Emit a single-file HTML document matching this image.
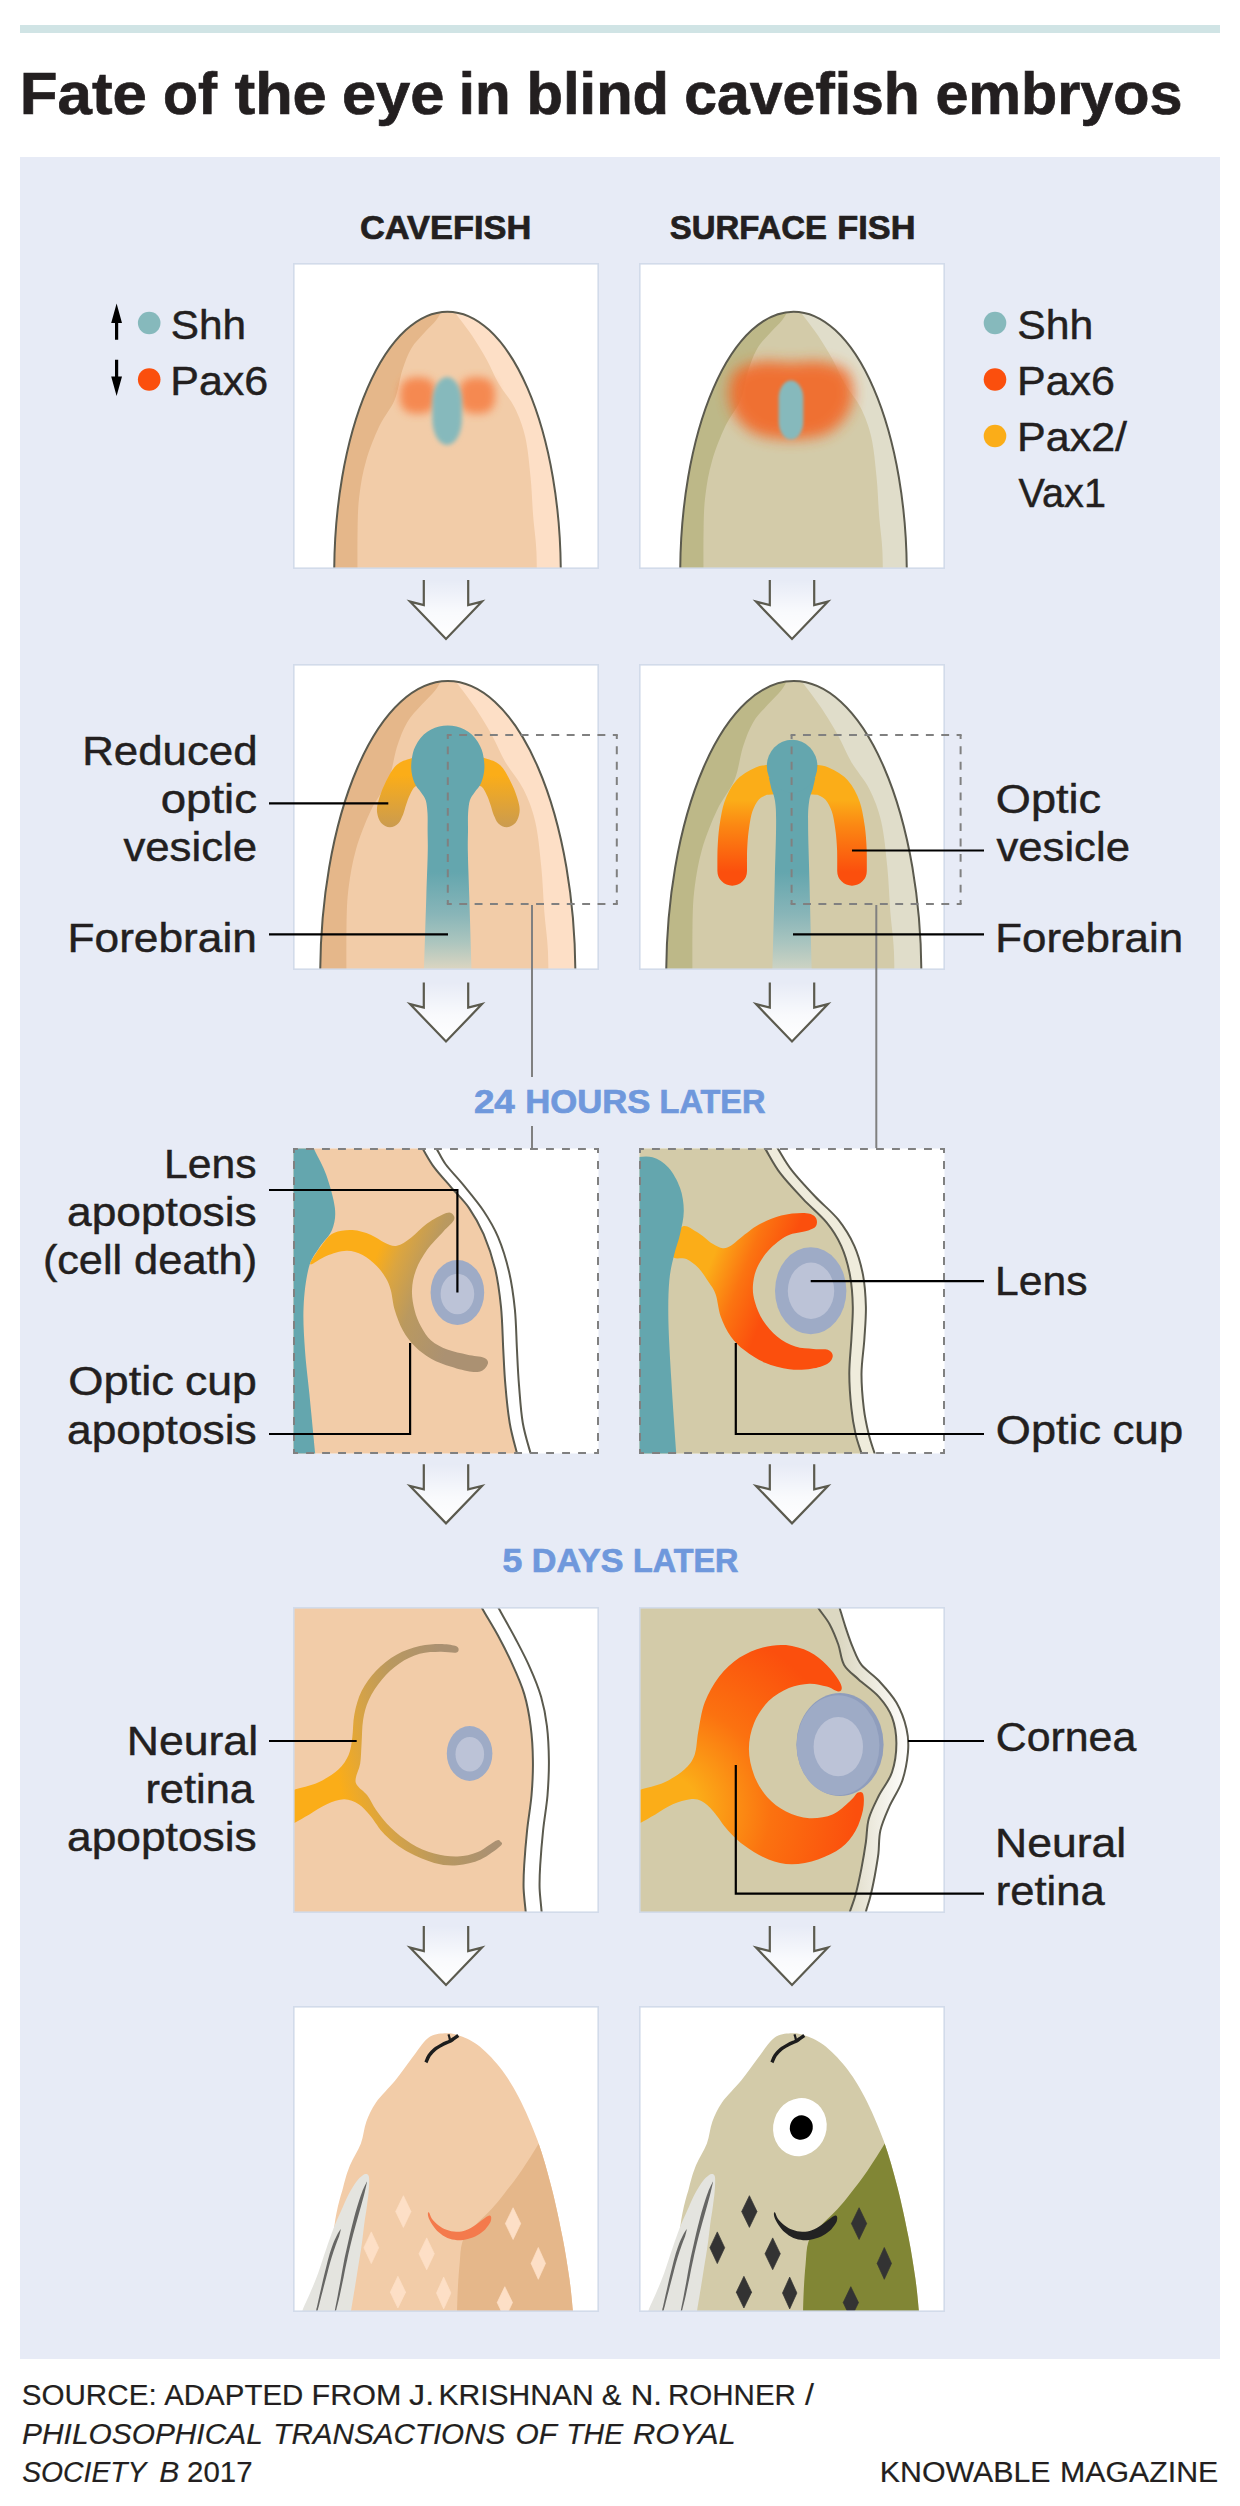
<!DOCTYPE html>
<html><head><meta charset="utf-8"><title>Fate of the eye in blind cavefish embryos</title>
<style>
html,body{margin:0;padding:0;background:#fff;}
body{width:1240px;height:2506px;overflow:hidden;font-family:"Liberation Sans",sans-serif;}
svg{display:block;}
text{font-family:"Liberation Sans",sans-serif;}
</style></head><body>
<svg width="1240" height="2506" viewBox="0 0 1240 2506">
<defs>
<linearGradient id="arrg" x1="0" y1="0" x2="0" y2="1"><stop offset="0" stop-color="#fff" stop-opacity="0"/><stop offset="0.55" stop-color="#fff" stop-opacity="0.75"/><stop offset="1" stop-color="#fff" stop-opacity="1"/></linearGradient>
<filter id="b3" x="-50%" y="-50%" width="200%" height="200%"><feGaussianBlur stdDeviation="3.2"/></filter>
<filter id="b2" x="-50%" y="-50%" width="200%" height="200%"><feGaussianBlur stdDeviation="1.6"/></filter>
<filter id="b4" x="-50%" y="-50%" width="200%" height="200%"><feGaussianBlur stdDeviation="4"/></filter>
<filter id="b7" x="-50%" y="-50%" width="200%" height="200%"><feGaussianBlur stdDeviation="7"/></filter>
<filter id="b2b" x="-50%" y="-50%" width="200%" height="200%"><feGaussianBlur stdDeviation="2.1"/></filter>
<filter id="b6" x="-50%" y="-50%" width="200%" height="200%"><feGaussianBlur stdDeviation="6"/></filter>
<clipPath id="cp00"><rect x="293.5" y="263.5" width="305" height="305"/></clipPath>
<clipPath id="cp01"><rect x="639.5" y="263.5" width="305" height="305"/></clipPath>
<clipPath id="cp10"><rect x="293.5" y="664.5" width="305" height="305"/></clipPath>
<clipPath id="cp11"><rect x="639.5" y="664.5" width="305" height="305"/></clipPath>
<clipPath id="cp20"><rect x="293.5" y="1148.5" width="305" height="305"/></clipPath>
<clipPath id="cp21"><rect x="639.5" y="1148.5" width="305" height="305"/></clipPath>
<clipPath id="cp30"><rect x="293.5" y="1607.5" width="305" height="305"/></clipPath>
<clipPath id="cp31"><rect x="639.5" y="1607.5" width="305" height="305"/></clipPath>
<clipPath id="cp40"><rect x="293.5" y="2006.5" width="305" height="305"/></clipPath>
<clipPath id="cp41"><rect x="639.5" y="2006.5" width="305" height="305"/></clipPath>
</defs>
<rect x="20" y="25" width="1200" height="8" fill="#d0e4e5"/>
<rect x="20" y="157" width="1200" height="2202" fill="#e7ebf6"/>
<rect x="293.5" y="263.5" width="305" height="305" fill="#fff"/>
<g clip-path="url(#cp00)">
<clipPath id="ec00"><ellipse cx="447.5" cy="573.7" rx="113.3" ry="262"/></clipPath>
<ellipse cx="447.5" cy="573.7" rx="113.3" ry="262" fill="#f2cca8"/>
<g clip-path="url(#ec00)">
<path d="M441.6,311.2C440.7,312.7 439,316.6 436.1,320.2C433.1,323.9 428.2,328.3 424.1,333C420,337.7 414.9,342.2 411.3,348.4C407.7,354.6 405,361.7 402.3,370.2C399.5,378.8 398.6,390.2 394.8,399.5C391,408.8 384.2,415.9 379.4,426.1C374.6,436.3 369.4,449.2 366.1,460.7C362.7,472.2 360.8,483.8 359.4,495.3C358,506.8 357.9,513 357.6,529.9C357.2,546.8 357.6,585.3 357.6,596.4L329.2,596.4 L329.2,306.7 Z" fill="#e5b78a" />
<path d="M453.9,311.2C454.9,312.5 457,315.1 460,319.2C463,323.2 467.5,328.9 472,335.6C476.4,342.4 482.2,351.6 486.6,359.6C491.1,367.6 493.9,375.6 498.6,383.5C503.2,391.5 510.1,398.6 514.6,407.5C519,416.4 522.5,425.2 525.2,436.8C527.9,448.3 529.2,463.4 530.5,476.7C531.9,490 532.2,504.2 533.2,516.6C534.2,529 535.8,537.9 536.4,551.2C537,564.5 536.8,588.9 536.9,596.4L565.8,596.4 L565.8,306.7 Z" fill="#fddfc6" />
</g>
<rect x="400" y="377.5" width="36" height="36" rx="14" fill="#f6864e" opacity="0.95" filter="url(#b4)"/>
<rect x="459" y="377.5" width="36" height="36" rx="14" fill="#f6864e" opacity="0.95" filter="url(#b4)"/>
<rect x="432.3" y="377" width="29.6" height="68" rx="14.8" ry="26" fill="#86b9bc" filter="url(#b2b)"/>
<ellipse cx="447.5" cy="573.7" rx="113.3" ry="262" fill="none" stroke="#5b5a4e" stroke-width="2"/>
</g>
<rect x="293.8" y="263.8" width="304.4" height="304.4" fill="none" stroke="#d2dbea" stroke-width="1.6"/>
<rect x="639.5" y="263.5" width="305" height="305" fill="#fff"/>
<g clip-path="url(#cp01)">
<clipPath id="ec01"><ellipse cx="793.5" cy="573.7" rx="113.3" ry="262"/></clipPath>
<ellipse cx="793.5" cy="573.7" rx="113.3" ry="262" fill="#d3cba9"/>
<g clip-path="url(#ec01)">
<path d="M787.6,311.2C786.7,312.7 785,316.6 782.1,320.2C779.1,323.9 774.2,328.3 770.1,333C766,337.7 760.9,342.2 757.3,348.4C753.7,354.6 751,361.7 748.3,370.2C745.5,378.8 744.6,390.2 740.8,399.5C737,408.8 730.2,415.9 725.4,426.1C720.6,436.3 715.4,449.2 712.1,460.7C708.7,472.2 706.8,483.8 705.4,495.3C704,506.8 703.9,513 703.6,529.9C703.2,546.8 703.6,585.3 703.6,596.4L675.2,596.4 L675.2,306.7 Z" fill="#bdb888" />
<path d="M799.9,311.2C800.9,312.5 803,315.1 806,319.2C809,323.2 813.5,328.9 818,335.6C822.4,342.4 828.2,351.6 832.6,359.6C837.1,367.6 839.9,375.6 844.6,383.5C849.2,391.5 856.1,398.6 860.6,407.5C865,416.4 868.5,425.2 871.2,436.8C873.9,448.3 875.2,463.4 876.5,476.7C877.9,490 878.2,504.2 879.2,516.6C880.2,529 881.8,537.9 882.4,551.2C883,564.5 882.8,588.9 882.9,596.4L911.8,596.4 L911.8,306.7 Z" fill="#e0ddca" />
</g>
<path d="M735,371 C757,357 775,362 791,363 C807,362 825,357 847,371 C861,394 850,423 825,434.5 C805,441 777,441 757,434.5 C732,423 721,394 735,371Z" fill="#f26b2b" opacity="0.93" filter="url(#b7)"/>
<rect x="778.7" y="380.5" width="24.6" height="59" rx="12.3" ry="18" fill="#86b9bc" filter="url(#b2)"/>
<ellipse cx="793.5" cy="573.7" rx="113.3" ry="262" fill="none" stroke="#5b5a4e" stroke-width="2"/>
</g>
<rect x="639.8" y="263.8" width="304.4" height="304.4" fill="none" stroke="#d2dbea" stroke-width="1.6"/>
<defs>
<linearGradient id="tealg" gradientUnits="userSpaceOnUse" x1="0" y1="872" x2="0" y2="969"><stop offset="0" stop-color="#64a6ae"/><stop offset="0.43" stop-color="#88b5b8"/><stop offset="0.72" stop-color="#abc5be"/><stop offset="1" stop-color="#dbd5c1"/></linearGradient>
<linearGradient id="tealg2" gradientUnits="userSpaceOnUse" x1="0" y1="872" x2="0" y2="969"><stop offset="0" stop-color="#64a6ae"/><stop offset="0.43" stop-color="#88b5b8"/><stop offset="0.72" stop-color="#a8c4bf"/><stop offset="1" stop-color="#cdd3c3"/></linearGradient>
<linearGradient id="yb1" gradientUnits="userSpaceOnUse" x1="0" y1="775" x2="0" y2="830"><stop offset="0" stop-color="#fbad18"/><stop offset="1" stop-color="#c89a52"/></linearGradient>
<linearGradient id="yo1" gradientUnits="userSpaceOnUse" x1="0" y1="800" x2="0" y2="872"><stop offset="0" stop-color="#fbad18"/><stop offset="0.35" stop-color="#fb8813"/><stop offset="1" stop-color="#fb4f0d"/></linearGradient>
</defs>
<rect x="293.5" y="664.5" width="305" height="305" fill="#fff"/>
<g clip-path="url(#cp10)">
<clipPath id="ec10"><ellipse cx="447.8" cy="976.1" rx="127.6" ry="295"/></clipPath>
<ellipse cx="447.8" cy="976.1" rx="127.6" ry="295" fill="#f2cca8"/>
<g clip-path="url(#ec10)">
<path d="M441.2,680.5C440.2,682.2 438.2,686.6 434.9,690.7C431.6,694.8 426.1,699.8 421.4,705.1C416.8,710.4 411.1,715.5 407.1,722.4C403,729.4 400,737.4 396.9,747C393.8,756.6 392.8,769.5 388.5,780C384.2,790.5 376.5,798.5 371.1,809.9C365.7,821.4 359.9,835.9 356.1,848.9C352.4,861.9 350.2,874.9 348.6,887.8C347,900.8 346.9,907.8 346.5,926.8C346.2,945.8 346.5,989.2 346.5,1001.7L315.2,1001.7 L315.2,676.1 Z" fill="#e5b78a" />
<path d="M455,680.5C456.1,682 458.5,684.9 461.9,689.5C465.3,694.1 470.4,700.5 475.4,708.1C480.4,715.7 486.9,726 491.8,735C496.8,744 500.1,753 505.3,762C510.6,771 518.3,779 523.3,789C528.3,799 532.3,808.9 535.3,821.9C538.3,834.9 539.8,851.9 541.3,866.9C542.8,881.9 543.2,897.8 544.3,911.8C545.4,925.8 547.2,935.8 547.9,950.8C548.6,965.7 548.4,993.2 548.5,1001.7L580.4,1001.7 L580.4,676.1 Z" fill="#fddfc6" />
</g>
<path d="M421,757.3C419.3,753.2 416.4,756.7 412.3,758.1C408.1,759.4 400.9,761 396.3,765.3C391.7,769.7 387.7,778.1 384.7,784.2C381.7,790.2 379.5,796.9 378.3,801.6C377,806.3 376.7,809 377.1,812.5C377.6,816 378.9,820.2 381,822.7C383.2,825.1 386.9,827.2 389.8,827.3C392.6,827.4 396,825.5 398.2,823.4C400.4,821.3 401.6,817.8 403,814.7C404.3,811.5 405,807.9 406.2,804.5C407.3,801.1 408.6,797.3 410.1,794.4C411.5,791.4 412.8,788.7 414.9,786.8C416.9,784.9 421.4,787.7 422.4,782.7C423.4,777.8 422.7,761.5 421,757.3Z" fill="url(#yb1)" />
<path d="M475.6,757.3C477.3,753.2 480.2,756.7 484.3,758.1C488.5,759.4 495.7,761 500.3,765.3C504.9,769.7 508.9,778.1 511.9,784.2C514.9,790.2 517.1,796.9 518.3,801.6C519.6,806.3 519.9,809 519.5,812.5C519,816 517.7,820.2 515.6,822.7C513.4,825.1 509.7,827.2 506.8,827.3C504,827.4 500.6,825.5 498.4,823.4C496.2,821.3 495,817.8 493.6,814.7C492.3,811.5 491.6,807.9 490.4,804.5C489.3,801.1 488,797.3 486.5,794.4C485.1,791.4 483.8,788.7 481.7,786.8C479.7,784.9 475.2,787.7 474.2,782.7C473.2,777.8 473.9,761.5 475.6,757.3Z" fill="url(#yb1)" />
<path d="M424,970.8C424.3,958.5 425.7,916.4 426.3,896.8C426.9,877.2 427.5,864.3 427.7,853.3C428,842.2 427.6,837.3 427.6,830.6C427.6,824 427.8,818.3 427.5,813.2C427.1,808.1 426.8,803.7 425.7,800.2C424.6,796.7 422.8,795.1 420.9,792.2C419,789.3 416,786.7 414.4,782.7C412.8,778.7 411.4,773.2 411.2,768.2C411,763.3 411.9,757.3 412.9,753C414,748.6 415.9,745.2 417.7,742.1C419.5,739 421.6,736.6 423.8,734.5C426.1,732.5 428.5,730.9 431.1,729.6C433.6,728.3 436.3,727.3 439.1,726.6C441.9,725.9 444.9,725.4 447.8,725.4C450.7,725.4 453.7,725.9 456.5,726.6C459.3,727.3 462,728.3 464.5,729.6C467.1,730.9 469.5,732.5 471.8,734.5C474,736.6 476.1,739 477.9,742.1C479.7,745.2 481.6,748.6 482.7,753C483.7,757.3 484.6,763.3 484.4,768.2C484.2,773.2 482.8,778.7 481.2,782.7C479.6,786.7 476.6,789.3 474.7,792.2C472.8,795.1 471,796.7 469.9,800.2C468.8,803.7 468.5,808.1 468.1,813.2C467.8,818.3 468,824 468,830.6C468,837.3 467.6,842.2 467.9,853.3C468.1,864.3 468.7,877.2 469.3,896.8C469.9,916.4 471.3,958.5 471.6,970.8Z" fill="url(#tealg)" />
<ellipse cx="447.8" cy="976.1" rx="127.6" ry="295" fill="none" stroke="#5b5a4e" stroke-width="2"/>
</g>
<rect x="293.8" y="664.8" width="304.4" height="304.4" fill="none" stroke="#d2dbea" stroke-width="1.6"/>
<rect x="639.5" y="664.5" width="305" height="305" fill="#fff"/>
<g clip-path="url(#cp11)">
<clipPath id="ec11"><ellipse cx="793.8" cy="976.1" rx="127.6" ry="295"/></clipPath>
<ellipse cx="793.8" cy="976.1" rx="127.6" ry="295" fill="#d3cba9"/>
<g clip-path="url(#ec11)">
<path d="M787.2,680.5C786.2,682.2 784.2,686.6 780.9,690.7C777.6,694.8 772.1,699.8 767.4,705.1C762.8,710.4 757.1,715.5 753.1,722.4C749,729.4 746,737.4 742.9,747C739.8,756.6 738.8,769.5 734.5,780C730.2,790.5 722.5,798.5 717.1,809.9C711.7,821.4 705.9,835.9 702.1,848.9C698.4,861.9 696.2,874.9 694.6,887.8C693,900.8 692.9,907.8 692.5,926.8C692.2,945.8 692.5,989.2 692.5,1001.7L661.2,1001.7 L661.2,676.1 Z" fill="#bdb888" />
<path d="M801,680.5C802.1,682 804.5,684.9 807.9,689.5C811.3,694.1 816.4,700.5 821.4,708.1C826.4,715.7 832.9,726 837.8,735C842.8,744 846.1,753 851.3,762C856.6,771 864.3,779 869.3,789C874.3,799 878.3,808.9 881.3,821.9C884.3,834.9 885.8,851.9 887.3,866.9C888.8,881.9 889.2,897.8 890.3,911.8C891.4,925.8 893.2,935.8 893.9,950.8C894.6,965.7 894.4,993.2 894.5,1001.7L926.4,1001.7 L926.4,676.1 Z" fill="#e0ddca" />
</g>
<path d="M773.2,779.5C771.3,779.7 765.5,779.4 761.3,781.1C757.1,782.9 751.6,785.4 747.8,789.7C744,794 740.6,800.4 738.3,807C736,813.7 734.9,822.4 733.9,829.6C732.9,836.8 732.6,843.4 732.3,850.2C732.1,857.1 732.2,867.5 732.2,870.9" fill="none" stroke="url(#yo1)" stroke-width="29.6" stroke-linecap="round"/>
<path d="M811,779.5C812.9,779.7 818.7,779.4 822.9,781.1C827.1,782.9 832.6,785.4 836.4,789.7C840.2,794 843.6,800.4 845.9,807C848.2,813.7 849.3,822.4 850.3,829.6C851.3,836.8 851.6,843.4 851.9,850.2C852.1,857.1 852,867.5 852,870.9" fill="none" stroke="url(#yo1)" stroke-width="29.6" stroke-linecap="round"/>
<path d="M772.4,970.8C772.8,956.1 774.1,906.7 774.7,882.3C775.3,857.8 776.1,837.8 776.1,824.2C776.2,810.7 775.8,807 775,801C774.2,794.9 772.2,791.8 771.2,787.9C770.2,784 769.3,779.5 768.9,777.8L815.3,777.8C814.9,779.5 814,784 813,787.9C812,791.8 810,794.9 809.2,801C808.4,807 808,810.7 808.1,824.2C808.1,837.8 808.9,857.8 809.5,882.3C810.1,906.7 811.4,956.1 811.8,970.8Z" fill="url(#tealg2)" />
<ellipse cx="792.1" cy="766.1" rx="25.3" ry="26.4" fill="#64a6ae"/>
<ellipse cx="793.8" cy="976.1" rx="127.6" ry="295" fill="none" stroke="#5b5a4e" stroke-width="2"/>
</g>
<rect x="639.8" y="664.8" width="304.4" height="304.4" fill="none" stroke="#d2dbea" stroke-width="1.6"/>
<defs>
<linearGradient id="yb2" gradientUnits="userSpaceOnUse" x1="376.7" y1="1253.9" x2="470.4" y2="1291.4"><stop offset="0" stop-color="#fbad18"/><stop offset="0.21" stop-color="#dba540"/><stop offset="0.51" stop-color="#ba995f"/><stop offset="1" stop-color="#ab9172"/></linearGradient>
<linearGradient id="yo2" gradientUnits="userSpaceOnUse" x1="710.6" y1="1262.7" x2="774.2" y2="1288.1"><stop offset="0" stop-color="#fbad18"/><stop offset="0.5" stop-color="#fb7411"/><stop offset="1" stop-color="#fb4f0d"/></linearGradient>
</defs>
<rect x="293.5" y="1148.5" width="305" height="305" fill="#fff"/>
<g clip-path="url(#cp20)">
<path d="M418.2,1141.3C419,1142.5 419.9,1144.2 422.6,1148.6C425.3,1152.9 429.4,1160.9 434.2,1167.4C439.1,1174 445.8,1181 451.6,1187.8C457.4,1194.5 463.7,1200.3 469.1,1208.1C474.4,1215.8 479.2,1224.1 483.6,1234.2C487.9,1244.4 492.3,1257 495.2,1269.1C498.1,1281.2 499.6,1293.3 501,1306.8C502.4,1320.4 502.6,1337.3 503.3,1350.4C504,1363.4 504.3,1373.1 505.4,1385.2C506.4,1397.3 507.8,1411.6 509.7,1423C511.6,1434.3 515.3,1446.7 517,1453.4C518.7,1460.2 519.4,1461.9 519.9,1463.6L250,1470L250,1130Z" fill="#f2cca8" />
<path d="M418.2,1141.3C419,1142.5 419.9,1144.2 422.6,1148.6C425.3,1152.9 429.4,1160.9 434.2,1167.4C439.1,1174 445.8,1181 451.6,1187.8C457.4,1194.5 463.7,1200.3 469.1,1208.1C474.4,1215.8 479.2,1224.1 483.6,1234.2C487.9,1244.4 492.3,1257 495.2,1269.1C498.1,1281.2 499.6,1293.3 501,1306.8C502.4,1320.4 502.6,1337.3 503.3,1350.4C504,1363.4 504.3,1373.1 505.4,1385.2C506.4,1397.3 507.8,1411.6 509.7,1423C511.6,1434.3 515.3,1446.7 517,1453.4C518.7,1460.2 519.4,1461.9 519.9,1463.6" fill="none" stroke="#5b5a4e" stroke-width="2"/>
<path d="M431.9,1141.3C432.7,1142.5 434.2,1144.7 436.5,1148.6C438.9,1152.4 441.4,1158.5 445.8,1164.5C450.3,1170.6 457,1177.1 463.3,1184.9C469.5,1192.6 477.8,1202.3 483.6,1211C489.4,1219.7 493.8,1227 498.1,1237.1C502.4,1247.3 506.3,1259.9 509.1,1272C511.9,1284.1 513.6,1296.6 514.9,1309.7C516.2,1322.8 516.3,1337.8 517,1350.4C517.6,1362.9 518,1373.1 519,1385.2C520,1397.3 520.8,1411.6 522.8,1423C524.7,1434.3 528.8,1446.7 530.6,1453.4C532.4,1460.2 533,1461.9 533.5,1463.6" fill="none" stroke="#5b5a4e" stroke-width="2"/>
<path d="M309.9,1138.4C310.8,1140.6 312.5,1145.4 315.2,1151.5C317.9,1157.5 322.9,1165.3 326.2,1174.7C329.5,1184.1 333.9,1198.9 334.9,1208.1C335.9,1217.3 334.6,1223.3 332,1229.9C329.4,1236.4 323.4,1241 319.5,1247.3C315.7,1253.6 311.4,1257.7 308.8,1267.6C306.1,1277.5 304.2,1293 303.6,1306.8C302.9,1320.6 304,1335.8 305,1350.4C306,1364.9 307.7,1376.7 309.4,1393.9C311.1,1411.1 314.1,1441.8 315.2,1453.4C316.3,1465.1 315.9,1461.9 316,1463.6L250,1470L250,1130Z" fill="#64a6ae" />
<path d="M390.8,1290.2C392.3,1295.5 392.8,1303.6 394.8,1310.3C396.9,1317 399.5,1324.4 402.9,1330.5C406.3,1336.5 410.3,1341.9 415,1346.6C419.7,1351.3 425.1,1355.3 431.1,1358.7C437.2,1362.1 444.6,1364.6 451.3,1366.8C458,1369 466.2,1371.2 471.5,1371.8C476.7,1372.4 479.8,1371.8 482.5,1370.4C485.3,1369 487.7,1365.3 488,1363.1C488.2,1361 487.4,1359.1 484,1357.7C480.5,1356.3 473.5,1356 467.4,1354.7C461.3,1353.3 453.3,1352 447.3,1349.6C441.2,1347.3 435.5,1344.4 431.1,1340.6C426.8,1336.7 423.8,1331.5 421,1326.5C418.3,1321.4 416.1,1316.4 414.6,1310.3C413.1,1304.3 411.7,1296.9 412,1290.2C412.2,1283.4 413.5,1276.7 416,1270C418.5,1263.3 422.6,1256.2 427.1,1249.8C431.6,1243.5 438.8,1236.6 443.2,1231.7C447.7,1226.8 452.1,1223.5 453.7,1220.6C455.3,1217.7 454.1,1215.8 452.9,1214.6C451.7,1213.3 450.6,1211.6 446.2,1213.1C441.9,1214.7 433,1219.5 427.1,1223.6C421.2,1227.7 416,1234 411,1237.7C405.9,1241.4 401.2,1245 396.9,1245.8C392.5,1246.6 389.1,1244.6 384.8,1242.8C380.4,1240.9 376,1236.8 370.6,1234.7C365.3,1232.6 358.5,1230.4 352.5,1230.1C346.5,1229.7 339.1,1230.8 334.4,1232.7C329.7,1234.7 328.3,1236.6 324.3,1241.8C320.2,1247 309.8,1261.6 310.2,1264C310.5,1266.3 320.2,1258.1 326.3,1255.9C332.3,1253.7 340.4,1251 346.5,1250.8C352.5,1250.7 357.5,1252.4 362.6,1254.9C367.6,1257.4 372.8,1262.1 376.7,1266C380.6,1269.8 383.4,1274 385.8,1278.1C388.1,1282.1 389.3,1284.8 390.8,1290.2Z" fill="url(#yb2)" />
<ellipse cx="457.4" cy="1292.5" rx="26.8" ry="32.5" fill="#9eabc6"/>
<ellipse cx="457.4" cy="1294" rx="16.8" ry="20.3" fill="#bcc3d7"/>
</g>
<rect x="639.5" y="1148.5" width="305" height="305" fill="#fff"/>
<g clip-path="url(#cp21)">
<path d="M773,1141.3C773.8,1142.5 774.7,1143.7 777.9,1148.6C781,1153.4 785.6,1162.4 791.8,1170.3C798,1178.3 807.3,1188.2 815.1,1196.5C822.8,1204.7 831.8,1211.5 838.3,1219.7C844.8,1227.9 850.1,1236.6 854.3,1245.8C858.4,1255 861,1264.7 863,1274.9C864.9,1285 865.6,1296.2 865.9,1306.8C866.1,1317.5 865.1,1327.6 864.4,1338.7C863.7,1349.9 861.6,1362 861.5,1373.6C861.4,1385.2 862.6,1398.3 863.8,1408.4C865,1418.6 867,1427.1 868.8,1434.6C870.6,1442.1 873.1,1448.6 874.6,1453.4C876,1458.3 877,1461.9 877.5,1463.6L600,1470L600,1130Z" fill="#efecdc" />
<path d="M759.9,1141.3C760.8,1142.5 761.7,1143.2 765.1,1148.6C768.5,1153.9 773.8,1164.8 780.2,1173.2C786.6,1181.7 795.7,1191.1 803.4,1199.4C811.2,1207.6 820.4,1214.9 826.7,1222.6C833,1230.3 837.3,1237.1 841.2,1245.8C845.1,1254.5 848,1264.7 849.9,1274.9C851.8,1285 852.6,1296.2 852.8,1306.8C853,1317.5 851.9,1327.6 851.4,1338.7C850.8,1349.9 849.3,1362 849.3,1373.6C849.3,1385.2 850.3,1398.3 851.4,1408.4C852.4,1418.6 854,1427.1 855.7,1434.6C857.4,1442.1 860.1,1448.6 861.5,1453.4C863,1458.3 863.9,1461.9 864.4,1463.6L600,1470L600,1130Z" fill="#d3cba9" />
<path d="M759.9,1141.3C760.8,1142.5 761.7,1143.2 765.1,1148.6C768.5,1153.9 773.8,1164.8 780.2,1173.2C786.6,1181.7 795.7,1191.1 803.4,1199.4C811.2,1207.6 820.4,1214.9 826.7,1222.6C833,1230.3 837.3,1237.1 841.2,1245.8C845.1,1254.5 848,1264.7 849.9,1274.9C851.8,1285 852.6,1296.2 852.8,1306.8C853,1317.5 851.9,1327.6 851.4,1338.7C850.8,1349.9 849.3,1362 849.3,1373.6C849.3,1385.2 850.3,1398.3 851.4,1408.4C852.4,1418.6 854,1427.1 855.7,1434.6C857.4,1442.1 860.1,1448.6 861.5,1453.4C863,1458.3 863.9,1461.9 864.4,1463.6" fill="none" stroke="#5b5a4e" stroke-width="2"/>
<path d="M773,1141.3C773.8,1142.5 774.7,1143.7 777.9,1148.6C781,1153.4 785.6,1162.4 791.8,1170.3C798,1178.3 807.3,1188.2 815.1,1196.5C822.8,1204.7 831.8,1211.5 838.3,1219.7C844.8,1227.9 850.1,1236.6 854.3,1245.8C858.4,1255 861,1264.7 863,1274.9C864.9,1285 865.6,1296.2 865.9,1306.8C866.1,1317.5 865.1,1327.6 864.4,1338.7C863.7,1349.9 861.6,1362 861.5,1373.6C861.4,1385.2 862.6,1398.3 863.8,1408.4C865,1418.6 867,1427.1 868.8,1434.6C870.6,1442.1 873.1,1448.6 874.6,1453.4C876,1458.3 877,1461.9 877.5,1463.6" fill="none" stroke="#5b5a4e" stroke-width="2"/>
<path d="M715.6,1294.2C717.7,1299.9 718.2,1309.3 720.7,1316.4C723.2,1323.4 726.7,1330.8 730.8,1336.5C734.8,1342.2 739.2,1346.3 744.9,1350.6C750.6,1355 757.6,1359.7 765,1362.7C772.4,1365.8 781.5,1368.2 789.2,1369.2C797,1370.2 805,1369.7 811.4,1368.8C817.8,1367.9 824,1365.9 827.5,1363.8C831.1,1361.6 832.7,1358.4 832.8,1356.1C832.8,1353.8 831.2,1351 827.9,1349.8C824.7,1348.7 818.9,1349.6 813.4,1349C808,1348.5 801.3,1348.7 795.3,1346.6C789.2,1344.5 782.5,1340.9 777.1,1336.5C771.8,1332.2 766.7,1326.1 763,1320.4C759.3,1314.7 756.6,1308 755,1302.3C753.3,1296.5 752.6,1291.8 752.9,1286.1C753.3,1280.4 754.3,1274 757,1268C759.7,1261.9 764,1255.2 769.1,1249.8C774.1,1244.5 780.8,1238.9 787.2,1235.7C793.6,1232.5 802.6,1232.3 807.4,1230.7C812.2,1229.1 814.7,1228.3 816,1226C817.4,1223.8 817.4,1219.3 815.4,1217.2C813.5,1215 810.1,1213.4 804.3,1213.1C798.6,1212.9 788.7,1213.6 781.2,1215.6C773.6,1217.5 765.7,1220.9 759,1224.6C752.3,1228.3 745.5,1234.2 740.8,1237.7C736.1,1241.3 733.8,1244.1 730.8,1245.8C727.7,1247.6 725.7,1248.6 722.7,1248.2C719.7,1247.9 717,1246.5 712.6,1243.8C708.2,1241 701.7,1234.4 696.5,1231.7C691.3,1228.9 685.4,1223.3 681.4,1227.3C677.3,1231.2 671.5,1250.2 672.3,1255.5C673.1,1260.8 682,1256.8 686.4,1258.9C690.8,1261 694.8,1264.1 698.5,1268C702.2,1271.8 705.7,1277.7 708.6,1282.1C711.4,1286.5 713.6,1288.5 715.6,1294.2Z" fill="url(#yo2)" />
<path d="M635,1157.3C637.9,1157.3 646.9,1155.6 652.5,1157.3C658,1159 663.8,1162.4 668.4,1167.4C673,1172.5 677.5,1180.5 680,1187.8C682.6,1195 683.8,1203.2 683.8,1211C683.8,1218.7 681.6,1227 680,1234.2C678.4,1241.5 676,1246.8 674.2,1254.5C672.4,1262.3 670.3,1269.5 669.3,1280.7C668.3,1291.8 668.1,1304.9 668.4,1321.3C668.8,1337.8 670,1357.4 671.3,1379.4C672.6,1401.4 675.3,1439.4 676.3,1453.4C677.2,1467.5 677,1461.9 677.1,1463.6L600,1470L600,1150Z" fill="#64a6ae" />
<ellipse cx="810.7" cy="1290.8" rx="35.7" ry="43.5" fill="#9eabc6"/>
<ellipse cx="811" cy="1290.8" rx="23.2" ry="28.2" fill="#bcc3d7"/>
</g>
<defs>
<linearGradient id="yb3" gradientUnits="userSpaceOnUse" x1="340" y1="1787.5" x2="467.6" y2="1755.6"><stop offset="0" stop-color="#fbad18"/><stop offset="0.3" stop-color="#d6a346"/><stop offset="0.6" stop-color="#b9985f"/><stop offset="1" stop-color="#ab9172"/></linearGradient>
<radialGradient id="yo3" gradientUnits="userSpaceOnUse" cx="666" cy="1808" r="190"><stop offset="0" stop-color="#fbad18"/><stop offset="0.17" stop-color="#fbad18"/><stop offset="0.55" stop-color="#fb7210"/><stop offset="1" stop-color="#fb4f0d"/></radialGradient>
<linearGradient id="corn" gradientUnits="userSpaceOnUse" x1="840" y1="0" x2="905" y2="0"><stop offset="0" stop-color="#dcd8c2"/><stop offset="1" stop-color="#fdfcfa"/></linearGradient>
</defs>
<rect x="293.5" y="1607.5" width="305" height="305" fill="#fff"/>
<g clip-path="url(#cp30)">
<path d="M477.8,1598.1C478.5,1599.8 478.7,1601.9 482.1,1608.2C485.5,1614.5 493,1626.4 498.1,1635.8C503.2,1645.3 508.3,1655.2 512.6,1664.9C517,1674.5 521.2,1683.7 524.2,1693.9C527.2,1704.1 529.2,1714.7 530.6,1725.8C532.1,1737 532.8,1749.1 532.9,1760.7C533.1,1772.3 532.5,1783.9 531.5,1795.5C530.5,1807.1 528.3,1818.7 527.1,1830.4C525.9,1842 524.8,1855.5 524.2,1865.2C523.6,1874.9 523.4,1880.7 523.6,1888.4C523.9,1896.2 525.2,1905.9 525.7,1911.7C526.2,1917.5 526.4,1921.3 526.6,1923.3L250,1930L250,1590Z" fill="#f2cca8" />
<path d="M477.8,1598.1C478.5,1599.8 478.7,1601.9 482.1,1608.2C485.5,1614.5 493,1626.4 498.1,1635.8C503.2,1645.3 508.3,1655.2 512.6,1664.9C517,1674.5 521.2,1683.7 524.2,1693.9C527.2,1704.1 529.2,1714.7 530.6,1725.8C532.1,1737 532.8,1749.1 532.9,1760.7C533.1,1772.3 532.5,1783.9 531.5,1795.5C530.5,1807.1 528.3,1818.7 527.1,1830.4C525.9,1842 524.8,1855.5 524.2,1865.2C523.6,1874.9 523.4,1880.7 523.6,1888.4C523.9,1896.2 525.2,1905.9 525.7,1911.7C526.2,1917.5 526.4,1921.3 526.6,1923.3" fill="none" stroke="#5b5a4e" stroke-width="2"/>
<path d="M493.7,1598.1C494.6,1599.8 495,1601.5 498.7,1608.2C502.3,1615 510.3,1628.8 515.5,1638.7C520.7,1648.6 525.8,1658.1 530,1667.8C534.3,1677.4 538.3,1687.1 541.1,1696.8C543.9,1706.5 545.6,1715.2 546.9,1725.8C548.2,1736.5 548.8,1749.1 548.9,1760.7C549,1772.3 548.4,1783.9 547.5,1795.5C546.5,1807.1 544.3,1818.7 543.1,1830.4C541.9,1842 540.8,1855.5 540.2,1865.2C539.6,1874.9 539.4,1880.7 539.6,1888.4C539.9,1896.2 541.2,1905.9 541.6,1911.7C542.1,1917.5 542.4,1921.3 542.5,1923.3" fill="none" stroke="#5b5a4e" stroke-width="2"/>
<path d="M286.1,1792C287.5,1785.7 288.9,1791.3 294.3,1789.7C299.6,1788.1 310.7,1785.8 318.1,1782.5C325.4,1779.1 333.3,1774 338.4,1769.4C343.5,1764.8 346.2,1760.2 348.6,1754.9C350.9,1749.5 351.4,1744.2 352.3,1737.4C353.3,1730.7 352.8,1722 354.4,1714.2C355.9,1706.5 358,1698.2 361.6,1691C365.3,1683.7 370.3,1676.7 376.1,1670.7C382,1664.6 389.2,1658.8 396.5,1654.7C403.7,1650.6 412.4,1647.8 419.7,1646C427,1644.2 434.1,1644 440,1643.9C445.9,1643.9 452,1644.8 455.1,1645.7C458.2,1646.6 458.5,1648 458.6,1649.2C458.7,1650.3 458.8,1652.2 455.7,1652.7C452.6,1653.1 446,1651.6 440,1651.8C434,1652 426.5,1651.9 419.7,1653.8C412.9,1655.8 405.7,1659.1 399.4,1663.4C393.1,1667.7 387,1673.3 382,1679.4C376.9,1685.4 372,1692.9 368.9,1699.7C365.7,1706.5 364.3,1712.8 363.1,1720C361.9,1727.3 362.1,1736 361.6,1743.3C361.1,1750.5 361.1,1757.8 360.2,1763.6C359.2,1769.4 356.3,1774.5 355.8,1778.1C355.3,1781.7 355.3,1782.5 357.3,1785.4C359.2,1788.3 364.3,1791.4 367.4,1795.5C370.6,1799.6 372.3,1804.7 376.1,1810C380,1815.4 384.9,1821.9 390.7,1827.5C396.5,1833 403.7,1839.1 411,1843.4C418.2,1847.8 426.5,1851.4 434.2,1853.6C442,1855.8 450.2,1856.7 457.4,1856.5C464.7,1856.3 471.4,1854.8 477.8,1852.1C484.2,1849.5 492,1842.6 495.8,1840.8C499.5,1839 499.6,1840.5 500.4,1841.4C501.2,1842.3 503.7,1843 500.4,1846C497.1,1849 487.8,1856.2 480.7,1859.4C473.5,1862.6 465.2,1864.6 457.4,1865.2C449.7,1865.8 442.4,1865.1 434.2,1862.9C426,1860.7 416.3,1856.8 408.1,1852.1C399.9,1847.4 391.1,1840.8 384.9,1834.7C378.6,1828.7 374.7,1820.9 370.3,1815.8C366,1810.8 363.1,1807 358.7,1804.2C354.4,1801.5 349.5,1799.3 344.2,1799.3C338.9,1799.3 332.6,1801.7 326.8,1804.2C321,1806.7 314.8,1811.2 309.4,1814.4C303.9,1817.5 298.1,1820.9 294.3,1823.1C290.4,1825.3 287.5,1832.6 286.1,1827.5C284.8,1822.3 284.8,1798.3 286.1,1792Z" fill="url(#yb3)" />
<ellipse cx="469.6" cy="1753.5" rx="22.8" ry="27.4" fill="#9eabc6"/>
<ellipse cx="469.8" cy="1754.3" rx="14.3" ry="17.3" fill="#bcc3d7"/>
</g>
<rect x="293.8" y="1607.8" width="304.4" height="304.4" fill="none" stroke="#d2dbea" stroke-width="1.6"/>
<rect x="639.5" y="1607.5" width="305" height="305" fill="#fff"/>
<g clip-path="url(#cp31)">
<path d="M836.8,1598.1C837.3,1599.8 838.3,1603.4 839.7,1608.2C841.2,1613.1 843.4,1620.6 845.5,1627.1C847.7,1633.6 850.1,1641.1 852.8,1647.4C855.5,1653.7 857.2,1659.3 861.5,1664.9C865.9,1670.4 873.1,1674.5 878.9,1680.8C884.7,1687.1 891.8,1694.6 896.4,1702.6C901,1710.6 904.6,1720.5 906.5,1728.7C908.5,1737 908.7,1743.3 908,1752C907.2,1760.7 905.3,1771.8 902.2,1781C899,1790.2 892.7,1798.9 889.1,1807.1C885.5,1815.4 882.2,1822.6 880.4,1830.4C878.6,1838.1 879.3,1845.8 878.4,1853.6C877.4,1861.3 875.9,1869.6 874.6,1876.8C873.2,1884.1 871.7,1891.3 870.2,1897.1C868.8,1903 866.9,1907.3 865.9,1911.7C864.8,1916 864.2,1921.3 863.8,1923.3L600,1930L600,1590Z" fill="url(#corn)" />
<path d="M813.6,1598.1C814.4,1599.8 815.9,1603.9 818.5,1608.2C821.2,1612.6 826.3,1618.2 829.6,1624.2C832.9,1630.3 835.9,1637.8 838.3,1644.5C840.7,1651.3 840.7,1659 844.1,1664.9C847.5,1670.7 852.8,1674 858.6,1679.4C864.4,1684.7 873.4,1690.5 878.9,1696.8C884.5,1703.1 889.1,1709.4 892,1717.1C894.9,1724.9 896.4,1734.1 896.4,1743.3C896.4,1752.4 894.9,1763.6 892,1772.3C889.1,1781 882.8,1787.8 878.9,1795.5C875.1,1803.3 871,1811 868.8,1818.7C866.6,1826.5 867.1,1833.7 865.9,1842C864.7,1850.2 863.2,1859.4 861.5,1868.1C859.8,1876.8 857.6,1887 855.7,1894.2C853.8,1901.5 851.4,1906.8 849.9,1911.7C848.5,1916.5 847.5,1921.3 847,1923.3L600,1930L600,1590Z" fill="#d3cba9" />
<path d="M813.6,1598.1C814.4,1599.8 815.9,1603.9 818.5,1608.2C821.2,1612.6 826.3,1618.2 829.6,1624.2C832.9,1630.3 835.9,1637.8 838.3,1644.5C840.7,1651.3 840.7,1659 844.1,1664.9C847.5,1670.7 852.8,1674 858.6,1679.4C864.4,1684.7 873.4,1690.5 878.9,1696.8C884.5,1703.1 889.1,1709.4 892,1717.1C894.9,1724.9 896.4,1734.1 896.4,1743.3C896.4,1752.4 894.9,1763.6 892,1772.3C889.1,1781 882.8,1787.8 878.9,1795.5C875.1,1803.3 871,1811 868.8,1818.7C866.6,1826.5 867.1,1833.7 865.9,1842C864.7,1850.2 863.2,1859.4 861.5,1868.1C859.8,1876.8 857.6,1887 855.7,1894.2C853.8,1901.5 851.4,1906.8 849.9,1911.7C848.5,1916.5 847.5,1921.3 847,1923.3" fill="none" stroke="#5b5a4e" stroke-width="2"/>
<path d="M836.8,1598.1C837.3,1599.8 838.3,1603.4 839.7,1608.2C841.2,1613.1 843.4,1620.6 845.5,1627.1C847.7,1633.6 850.1,1641.1 852.8,1647.4C855.5,1653.7 857.2,1659.3 861.5,1664.9C865.9,1670.4 873.1,1674.5 878.9,1680.8C884.7,1687.1 891.8,1694.6 896.4,1702.6C901,1710.6 904.6,1720.5 906.5,1728.7C908.5,1737 908.7,1743.3 908,1752C907.2,1760.7 905.3,1771.8 902.2,1781C899,1790.2 892.7,1798.9 889.1,1807.1C885.5,1815.4 882.2,1822.6 880.4,1830.4C878.6,1838.1 879.3,1845.8 878.4,1853.6C877.4,1861.3 875.9,1869.6 874.6,1876.8C873.2,1884.1 871.7,1891.3 870.2,1897.1C868.8,1903 866.9,1907.3 865.9,1911.7C864.8,1916 864.2,1921.3 863.8,1923.3" fill="none" stroke="#5b5a4e" stroke-width="2"/>
<path d="M632.1,1792C633.5,1785.7 634.9,1791.3 640.3,1789.7C645.6,1788.1 656.7,1785.8 664.1,1782.5C671.4,1779.1 679.3,1774 684.4,1769.4C689.5,1764.8 692.2,1761.2 694.6,1754.9C696.9,1748.6 696.6,1740.3 698.3,1731.6C700,1722.9 701.2,1711.8 704.7,1702.6C708.2,1693.4 713.4,1684 719.2,1676.5C725,1669 732.3,1662.4 739.6,1657.6C746.8,1652.8 755.1,1649.5 762.8,1647.4C770.5,1645.4 778.3,1644.4 786,1645.1C793.8,1645.8 802.5,1648.5 809.3,1651.8C816,1655.1 821.8,1660.3 826.7,1664.9C831.5,1669.5 835.8,1675.5 838.3,1679.4C840.8,1683.2 841.8,1686.1 841.8,1688.1C841.8,1690.1 840.8,1691.8 838.3,1691.6C835.8,1691.3 831.5,1687.9 826.7,1686.6C821.8,1685.3 815.5,1683.5 809.3,1683.7C803,1684 795.7,1685.2 788.9,1688.1C782.2,1691 774.4,1695.3 768.6,1701.1C762.8,1707 757.4,1714.9 754.1,1722.9C750.8,1730.9 748.9,1740.3 748.9,1749.1C748.9,1757.8 751,1767.2 754.1,1775.2C757.1,1783.2 761.8,1790.9 767.1,1797C772.5,1803 779,1808 786,1811.5C793,1815 801.5,1817.7 809.3,1818.2C817,1818.6 825.7,1817.2 832.5,1814.4C839.3,1811.6 845.6,1805 849.9,1801.3C854.2,1797.7 855.8,1793.8 858,1792.6C860.3,1791.5 862.4,1791.5 863.3,1794.4C864.1,1797.3 864.2,1804 863,1810C861.7,1816 859.3,1824.1 855.7,1830.4C852.1,1836.7 847.5,1842.9 841.2,1847.8C834.9,1852.6 826.2,1856.6 818,1859.4C809.7,1862.2 800.1,1864.3 791.8,1864.3C783.6,1864.3 776.3,1862.4 768.6,1859.4C760.9,1856.4 752.1,1851.2 745.4,1846.3C738.6,1841.5 733.3,1836.2 728,1830.4C722.6,1824.6 717.8,1816.3 713.4,1811.5C709.1,1806.6 705.7,1803.4 701.8,1801.3C697.9,1799.3 695,1798.8 690.2,1799.3C685.4,1799.8 678.6,1801.7 672.8,1804.2C667,1806.7 660.8,1811.2 655.4,1814.4C649.9,1817.5 644.1,1820.9 640.3,1823.1C636.4,1825.3 633.5,1832.6 632.1,1827.5C630.8,1822.3 630.8,1798.3 632.1,1792Z" fill="url(#yo3)" />
<ellipse cx="840" cy="1744.5" rx="43.6" ry="51.4" fill="#8f9dbc"/>
<ellipse cx="838" cy="1745.3" rx="41.4" ry="50" fill="#9eabc6"/>
<ellipse cx="838.3" cy="1746.7" rx="24.7" ry="29.6" fill="#bcc3d7"/>
</g>
<rect x="639.8" y="1607.8" width="304.4" height="304.4" fill="none" stroke="#d2dbea" stroke-width="1.6"/>
<rect x="293.5" y="2006.5" width="305" height="305" fill="#fff"/>
<g clip-path="url(#cp40)">
<path d="M321.1,2319C323.4,2303 331.2,2245 334.8,2223.1C338.5,2201.1 340.6,2197 343.1,2187.4C345.6,2177.8 347,2172.8 349.9,2165.5C352.9,2158.2 358.1,2150.9 360.9,2143.6C363.6,2136.2 363.9,2128.5 366.4,2121.6C368.9,2114.8 371.2,2109.3 376,2102.4C380.8,2095.6 389.2,2087.8 395.2,2080.5C401.1,2073.2 406.1,2065.6 411.6,2058.5C417.1,2051.5 422.6,2042.2 428.1,2038C433.6,2033.8 439.5,2033.8 444.5,2033.3C449.5,2032.9 452.7,2033.3 458.2,2035.2C463.7,2037.2 470.6,2039.6 477.4,2044.8C484.3,2050.1 492.5,2058.1 499.4,2066.8C506.2,2075.5 512.2,2084.6 518.6,2096.9C525,2109.3 532.3,2125.7 537.7,2140.8C543.2,2155.9 547.3,2171.4 551.5,2187.4C555.6,2203.4 559.5,2221.7 562.4,2236.8C565.4,2251.9 567.5,2265.7 569.3,2277.9C571,2290.1 572.2,2303.1 572.8,2310C573.5,2316.8 573.3,2317.5 573.4,2319Z" fill="#f2cca8" />
<clipPath id="hc0"><path d="M321.1,2319C323.4,2303 331.2,2245 334.8,2223.1C338.5,2201.1 340.6,2197 343.1,2187.4C345.6,2177.8 347,2172.8 349.9,2165.5C352.9,2158.2 358.1,2150.9 360.9,2143.6C363.6,2136.2 363.9,2128.5 366.4,2121.6C368.9,2114.8 371.2,2109.3 376,2102.4C380.8,2095.6 389.2,2087.8 395.2,2080.5C401.1,2073.2 406.1,2065.6 411.6,2058.5C417.1,2051.5 422.6,2042.2 428.1,2038C433.6,2033.8 439.5,2033.8 444.5,2033.3C449.5,2032.9 452.7,2033.3 458.2,2035.2C463.7,2037.2 470.6,2039.6 477.4,2044.8C484.3,2050.1 492.5,2058.1 499.4,2066.8C506.2,2075.5 512.2,2084.6 518.6,2096.9C525,2109.3 532.3,2125.7 537.7,2140.8C543.2,2155.9 547.3,2171.4 551.5,2187.4C555.6,2203.4 559.5,2221.7 562.4,2236.8C565.4,2251.9 567.5,2265.7 569.3,2277.9C571,2290.1 572.2,2303.1 572.8,2310C573.5,2316.8 573.3,2317.5 573.4,2319Z"/></clipPath>
<g clip-path="url(#hc0)">
<path d="M554.2,2118.9C551.7,2122.9 544.6,2134.3 539.1,2143C533.6,2151.7 527,2162.7 521.3,2171C515.6,2179.3 509.9,2186.5 504.8,2192.9C499.8,2199.3 496.6,2203.4 491.1,2209.4C485.6,2215.3 476.7,2223.1 471.9,2228.6C467.1,2234 464.4,2236.3 462.3,2242.3C460.3,2248.2 460.4,2256 459.6,2264.2C458.8,2272.4 458.1,2282.5 457.7,2291.6C457.2,2300.8 457,2314.5 456.9,2319L614.2,2330 L614.2,2100Z" fill="#e5b78a" />
</g>
<path d="M403.4,2195.7 L411,2211.6 L403.4,2227.4 L395.7,2211.6Z" fill="#fddfc6" stroke="#fddfc6" stroke-width="0.7" stroke-linejoin="round"/>
<path d="M371.3,2231.9 L378.7,2247.7 L371.3,2263.6 L363.9,2247.7Z" fill="#fddfc6" stroke="#fddfc6" stroke-width="0.7" stroke-linejoin="round"/>
<path d="M426.7,2237.9 L434.3,2253.8 L426.7,2269.7 L419,2253.8Z" fill="#fddfc6" stroke="#fddfc6" stroke-width="0.7" stroke-linejoin="round"/>
<path d="M513.1,2207.7 L520.7,2223.6 L513.1,2239.5 L505.4,2223.6Z" fill="#fddfc6" stroke="#fddfc6" stroke-width="0.7" stroke-linejoin="round"/>
<path d="M538.3,2247.5 L545.5,2263.4 L538.3,2279.3 L531.1,2263.4Z" fill="#fddfc6" stroke="#fddfc6" stroke-width="0.7" stroke-linejoin="round"/>
<path d="M397.9,2276.3 L405.6,2292.2 L397.9,2308 L390.3,2292.2Z" fill="#fddfc6" stroke="#fddfc6" stroke-width="0.7" stroke-linejoin="round"/>
<path d="M443.7,2277.1 L450.9,2293 L443.7,2308.9 L436.5,2293Z" fill="#fddfc6" stroke="#fddfc6" stroke-width="0.7" stroke-linejoin="round"/>
<path d="M504.8,2286.7 L512.5,2302.6 L504.8,2318.5 L497.2,2302.6Z" fill="#fddfc6" stroke="#fddfc6" stroke-width="0.7" stroke-linejoin="round"/>
<path d="M427.9,2213.7C427.9,2212.7 428.5,2211.9 429.2,2212.7C429.9,2213.5 430.4,2216.6 431.9,2218.7C433.5,2220.8 436.3,2223.6 438.7,2225.5C441.1,2227.3 443.5,2228.8 446.5,2229.8C449.4,2230.9 452.9,2231.7 456.1,2231.8C459.4,2231.9 462.6,2231.5 465.8,2230.3C469,2229.2 472.6,2226.9 475.5,2225C478.4,2223.1 480.9,2220.8 483.2,2219.2C485.5,2217.6 487.9,2215.9 489.2,2215.6C490.6,2215.3 491,2216.4 491.2,2217.5C491.3,2218.7 491.2,2220.6 490.2,2222.6C489.2,2224.5 487.3,2227.3 485.2,2229.4C483,2231.5 480.3,2233.6 477.4,2235.2C474.5,2236.8 471.1,2238.2 467.7,2239C464.4,2239.9 460.5,2240.4 457.1,2240.2C453.7,2240 450.5,2239.4 447.4,2238.1C444.4,2236.7 441.1,2234.4 438.7,2232.3C436.3,2230.2 434.5,2227.7 432.9,2225.5C431.3,2223.2 429.9,2220.7 429,2218.7C428.2,2216.7 427.8,2214.7 427.9,2213.7Z" fill="#f47a4c" />
<path d="M425.9,2062.4C426.5,2061.2 427.8,2057.5 429.3,2055.3C430.8,2053.1 432.6,2051.1 434.8,2049.3C437,2047.5 440.2,2045.8 442.6,2044.5C445,2043.2 447.4,2042.5 449.4,2041.5C451.3,2040.5 452.7,2039.4 454.2,2038.4C455.7,2037.4 457.6,2036 458.3,2035.5" fill="none" stroke="#1d1d1d" stroke-width="3.5" stroke-linecap="butt"/>
<path d="M448.4,2034.3C448.6,2034.9 449.3,2036.8 449.5,2037.9C449.8,2039 450,2040.3 450.1,2040.8" fill="none" stroke="#1d1d1d" stroke-width="2.2" stroke-linecap="butt"/>
<path d="M301.7,2314C301.9,2313.2 301.5,2312.7 302.9,2309.2C304.3,2305.7 307.6,2299.1 310.1,2293.1C312.7,2287 315.5,2280.3 318.2,2272.9C320.9,2265.5 323.7,2256.1 326.3,2248.7C328.8,2241.3 331.1,2234.7 333.5,2228.5C335.9,2222.4 338.2,2217.4 340.8,2211.6C343.3,2205.8 346.2,2199 348.8,2193.9C351.5,2188.8 354.6,2184 356.9,2181C359.2,2177.9 361,2176.7 362.5,2175.5C364.1,2174.3 365.2,2173.9 366.2,2174C367.2,2174 368.1,2174.6 368.6,2175.7C369.1,2176.9 369.2,2178.2 369.2,2181C369.2,2183.7 369,2187.7 368.6,2192.3C368.2,2196.8 367.3,2203 366.6,2208.4C365.8,2213.8 365,2218.5 364.2,2224.5C363.4,2230.6 362.7,2238 361.7,2244.7C360.8,2251.4 359.6,2258.1 358.5,2264.8C357.4,2271.6 356.5,2277.6 355.3,2285C354.1,2292.4 352.1,2304.4 351.3,2309.2C350.5,2314 350.6,2313.2 350.5,2314Z" fill="#e4e4df" />
<path d="M366.8,2181.7C366.1,2183.4 363.8,2187.5 362.1,2191.9C360.4,2196.2 358.5,2202.3 356.8,2207.9C355.1,2213.5 353.5,2220 352,2225.7C350.6,2231.4 349.4,2236.5 348.2,2241.9C347,2247.3 345.8,2252.3 344.6,2258.1C343.5,2263.9 342.3,2270.5 341.2,2276.7C340.1,2282.9 338.8,2289.9 337.8,2295.3C336.8,2300.7 335.7,2306 335.1,2309.1C334.5,2312.2 334.4,2313.1 334.3,2313.9L335.5,2314.1C335.6,2313.3 335.7,2312.4 336.4,2309.3C337.1,2306.2 338.5,2301 339.7,2295.7C340.9,2290.3 342.3,2283.3 343.6,2277.2C344.8,2271 346.1,2264.4 347.4,2258.7C348.6,2252.9 349.8,2248 351.1,2242.6C352.4,2237.3 353.8,2232.2 355.3,2226.6C356.8,2220.9 358.7,2214.5 360.2,2208.9C361.8,2203.2 363.4,2197.2 364.6,2192.7C365.7,2188.1 366.7,2183.6 367.1,2181.8Z" fill="#666664" />
<path d="M340.5,2229.3C339.9,2230.3 338.1,2232.9 336.8,2235.4C335.6,2237.8 334.2,2240.7 332.9,2244.2C331.6,2247.7 330.2,2251.8 328.9,2256.4C327.6,2261 326.3,2266.5 325,2271.8C323.7,2277 322.4,2282.4 321.2,2288C319.9,2293.5 318.2,2301.5 317.4,2305C316.6,2308.5 316.7,2307.5 316.4,2309C316.1,2310.5 315.6,2313.1 315.5,2313.9L316.9,2314.2C317,2313.4 317.5,2310.8 317.9,2309.4C318.2,2307.9 318.1,2308.8 319,2305.4C319.9,2301.9 321.9,2294 323.3,2288.5C324.7,2283 326.1,2277.6 327.5,2272.4C328.9,2267.2 330.3,2261.7 331.7,2257.2C333.1,2252.6 334.5,2248.7 335.7,2245.2C337,2241.7 338.2,2238.9 339.1,2236.3C339.9,2233.6 340.5,2230.6 340.8,2229.4Z" fill="#666664" />
</g>
<rect x="293.8" y="2006.8" width="304.4" height="304.4" fill="none" stroke="#d2dbea" stroke-width="1.6"/>
<rect x="639.5" y="2006.5" width="305" height="305" fill="#fff"/>
<g clip-path="url(#cp41)">
<path d="M667.1,2319C669.4,2303 677.2,2245 680.8,2223.1C684.5,2201.1 686.6,2197 689.1,2187.4C691.6,2177.8 693,2172.8 695.9,2165.5C698.9,2158.2 704.1,2150.9 706.9,2143.6C709.6,2136.2 709.9,2128.5 712.4,2121.6C714.9,2114.8 717.2,2109.3 722,2102.4C726.8,2095.6 735.2,2087.8 741.2,2080.5C747.1,2073.2 752.1,2065.6 757.6,2058.5C763.1,2051.5 768.6,2042.2 774.1,2038C779.6,2033.8 785.5,2033.8 790.5,2033.3C795.5,2032.9 798.7,2033.3 804.2,2035.2C809.7,2037.2 816.6,2039.6 823.4,2044.8C830.3,2050.1 838.5,2058.1 845.4,2066.8C852.2,2075.5 858.2,2084.6 864.6,2096.9C871,2109.3 878.3,2125.7 883.7,2140.8C889.2,2155.9 893.3,2171.4 897.5,2187.4C901.6,2203.4 905.5,2221.7 908.4,2236.8C911.4,2251.9 913.5,2265.7 915.3,2277.9C917,2290.1 918.2,2303.1 918.8,2310C919.5,2316.8 919.3,2317.5 919.4,2319Z" fill="#d3cba9" />
<clipPath id="hc1"><path d="M667.1,2319C669.4,2303 677.2,2245 680.8,2223.1C684.5,2201.1 686.6,2197 689.1,2187.4C691.6,2177.8 693,2172.8 695.9,2165.5C698.9,2158.2 704.1,2150.9 706.9,2143.6C709.6,2136.2 709.9,2128.5 712.4,2121.6C714.9,2114.8 717.2,2109.3 722,2102.4C726.8,2095.6 735.2,2087.8 741.2,2080.5C747.1,2073.2 752.1,2065.6 757.6,2058.5C763.1,2051.5 768.6,2042.2 774.1,2038C779.6,2033.8 785.5,2033.8 790.5,2033.3C795.5,2032.9 798.7,2033.3 804.2,2035.2C809.7,2037.2 816.6,2039.6 823.4,2044.8C830.3,2050.1 838.5,2058.1 845.4,2066.8C852.2,2075.5 858.2,2084.6 864.6,2096.9C871,2109.3 878.3,2125.7 883.7,2140.8C889.2,2155.9 893.3,2171.4 897.5,2187.4C901.6,2203.4 905.5,2221.7 908.4,2236.8C911.4,2251.9 913.5,2265.7 915.3,2277.9C917,2290.1 918.2,2303.1 918.8,2310C919.5,2316.8 919.3,2317.5 919.4,2319Z"/></clipPath>
<g clip-path="url(#hc1)">
<path d="M900.2,2118.9C897.7,2122.9 890.6,2134.3 885.1,2143C879.6,2151.7 873,2162.7 867.3,2171C861.6,2179.3 855.9,2186.5 850.8,2192.9C845.8,2199.3 842.6,2203.4 837.1,2209.4C831.6,2215.3 822.7,2223.1 817.9,2228.6C813.1,2234 810.4,2236.3 808.3,2242.3C806.3,2248.2 806.4,2256 805.6,2264.2C804.8,2272.4 804.1,2282.5 803.7,2291.6C803.2,2300.8 803,2314.5 802.9,2319L960.2,2330 L960.2,2100Z" fill="#818635" />
</g>
<path d="M749.4,2195.7 L757,2211.6 L749.4,2227.4 L741.7,2211.6Z" fill="#333333" stroke="#333333" stroke-width="0.7" stroke-linejoin="round"/>
<path d="M717.3,2231.9 L724.7,2247.7 L717.3,2263.6 L709.9,2247.7Z" fill="#333333" stroke="#333333" stroke-width="0.7" stroke-linejoin="round"/>
<path d="M772.7,2237.9 L780.3,2253.8 L772.7,2269.7 L765,2253.8Z" fill="#333333" stroke="#333333" stroke-width="0.7" stroke-linejoin="round"/>
<path d="M859.1,2207.7 L866.7,2223.6 L859.1,2239.5 L851.4,2223.6Z" fill="#333333" stroke="#333333" stroke-width="0.7" stroke-linejoin="round"/>
<path d="M884.3,2247.5 L891.5,2263.4 L884.3,2279.3 L877.1,2263.4Z" fill="#333333" stroke="#333333" stroke-width="0.7" stroke-linejoin="round"/>
<path d="M743.9,2276.3 L751.6,2292.2 L743.9,2308 L736.3,2292.2Z" fill="#333333" stroke="#333333" stroke-width="0.7" stroke-linejoin="round"/>
<path d="M789.7,2277.1 L796.9,2293 L789.7,2308.9 L782.5,2293Z" fill="#333333" stroke="#333333" stroke-width="0.7" stroke-linejoin="round"/>
<path d="M850.8,2286.7 L858.5,2302.6 L850.8,2318.5 L843.2,2302.6Z" fill="#333333" stroke="#333333" stroke-width="0.7" stroke-linejoin="round"/>
<ellipse cx="799.9" cy="2127.1" rx="26.6" ry="29.3" fill="#fff" transform="rotate(18 799.9 2127.1)"/>
<ellipse cx="801.3" cy="2127.6" rx="11.4" ry="12.3" fill="#000" transform="rotate(18 801.3 2127.6)"/>
<path d="M773.9,2213.7C773.9,2212.7 774.5,2211.9 775.2,2212.7C775.9,2213.5 776.4,2216.6 777.9,2218.7C779.5,2220.8 782.3,2223.6 784.7,2225.5C787.1,2227.3 789.5,2228.8 792.5,2229.8C795.4,2230.9 798.9,2231.7 802.1,2231.8C805.4,2231.9 808.6,2231.5 811.8,2230.3C815,2229.2 818.6,2226.9 821.5,2225C824.4,2223.1 826.9,2220.8 829.2,2219.2C831.5,2217.6 833.9,2215.9 835.2,2215.6C836.6,2215.3 837,2216.4 837.2,2217.5C837.3,2218.7 837.2,2220.6 836.2,2222.6C835.2,2224.5 833.3,2227.3 831.2,2229.4C829,2231.5 826.3,2233.6 823.4,2235.2C820.5,2236.8 817.1,2238.2 813.7,2239C810.4,2239.9 806.5,2240.4 803.1,2240.2C799.7,2240 796.5,2239.4 793.4,2238.1C790.4,2236.7 787.1,2234.4 784.7,2232.3C782.3,2230.2 780.5,2227.7 778.9,2225.5C777.3,2223.2 775.9,2220.7 775,2218.7C774.2,2216.7 773.8,2214.7 773.9,2213.7Z" fill="#222222" />
<path d="M771.9,2062.4C772.5,2061.2 773.8,2057.5 775.3,2055.3C776.8,2053.1 778.6,2051.1 780.8,2049.3C783,2047.5 786.2,2045.8 788.6,2044.5C791,2043.2 793.4,2042.5 795.4,2041.5C797.3,2040.5 798.7,2039.4 800.2,2038.4C801.7,2037.4 803.6,2036 804.3,2035.5" fill="none" stroke="#1d1d1d" stroke-width="3.5" stroke-linecap="butt"/>
<path d="M794.4,2034.3C794.6,2034.9 795.3,2036.8 795.5,2037.9C795.8,2039 796,2040.3 796.1,2040.8" fill="none" stroke="#1d1d1d" stroke-width="2.2" stroke-linecap="butt"/>
<path d="M647.7,2314C647.9,2313.2 647.5,2312.7 648.9,2309.2C650.3,2305.7 653.6,2299.1 656.1,2293.1C658.7,2287 661.5,2280.3 664.2,2272.9C666.9,2265.5 669.7,2256.1 672.3,2248.7C674.8,2241.3 677.1,2234.7 679.5,2228.5C681.9,2222.4 684.2,2217.4 686.8,2211.6C689.3,2205.8 692.2,2199 694.8,2193.9C697.5,2188.8 700.6,2184 702.9,2181C705.2,2177.9 707,2176.7 708.5,2175.5C710.1,2174.3 711.2,2173.9 712.2,2174C713.2,2174 714.1,2174.6 714.6,2175.7C715.1,2176.9 715.2,2178.2 715.2,2181C715.2,2183.7 715,2187.7 714.6,2192.3C714.2,2196.8 713.3,2203 712.6,2208.4C711.8,2213.8 711,2218.5 710.2,2224.5C709.4,2230.6 708.7,2238 707.7,2244.7C706.8,2251.4 705.6,2258.1 704.5,2264.8C703.4,2271.6 702.5,2277.6 701.3,2285C700.1,2292.4 698.1,2304.4 697.3,2309.2C696.5,2314 696.6,2313.2 696.5,2314Z" fill="#e4e4df" />
<path d="M712.8,2181.7C712.1,2183.4 709.8,2187.5 708.1,2191.9C706.4,2196.2 704.5,2202.3 702.8,2207.9C701.1,2213.5 699.5,2220 698,2225.7C696.6,2231.4 695.4,2236.5 694.2,2241.9C693,2247.3 691.8,2252.3 690.6,2258.1C689.5,2263.9 688.3,2270.5 687.2,2276.7C686.1,2282.9 684.8,2289.9 683.8,2295.3C682.8,2300.7 681.7,2306 681.1,2309.1C680.5,2312.2 680.4,2313.1 680.3,2313.9L681.5,2314.1C681.6,2313.3 681.7,2312.4 682.4,2309.3C683.1,2306.2 684.5,2301 685.7,2295.7C686.9,2290.3 688.3,2283.3 689.6,2277.2C690.8,2271 692.1,2264.4 693.4,2258.7C694.6,2252.9 695.8,2248 697.1,2242.6C698.4,2237.3 699.8,2232.2 701.3,2226.6C702.8,2220.9 704.7,2214.5 706.2,2208.9C707.8,2203.2 709.4,2197.2 710.6,2192.7C711.7,2188.1 712.7,2183.6 713.1,2181.8Z" fill="#666664" />
<path d="M686.5,2229.3C685.9,2230.3 684.1,2232.9 682.8,2235.4C681.6,2237.8 680.2,2240.7 678.9,2244.2C677.6,2247.7 676.2,2251.8 674.9,2256.4C673.6,2261 672.3,2266.5 671,2271.8C669.7,2277 668.4,2282.4 667.2,2288C665.9,2293.5 664.2,2301.5 663.4,2305C662.6,2308.5 662.7,2307.5 662.4,2309C662.1,2310.5 661.6,2313.1 661.5,2313.9L662.9,2314.2C663,2313.4 663.5,2310.8 663.9,2309.4C664.2,2307.9 664.1,2308.8 665,2305.4C665.9,2301.9 667.9,2294 669.3,2288.5C670.7,2283 672.1,2277.6 673.5,2272.4C674.9,2267.2 676.3,2261.7 677.7,2257.2C679.1,2252.6 680.5,2248.7 681.7,2245.2C683,2241.7 684.2,2238.9 685.1,2236.3C685.9,2233.6 686.5,2230.6 686.8,2229.4Z" fill="#666664" />
</g>
<rect x="639.8" y="2006.8" width="304.4" height="304.4" fill="none" stroke="#d2dbea" stroke-width="1.6"/>
<line x1="294" y1="1149" x2="598" y2="1149" stroke="#808080" stroke-width="2" stroke-dasharray="7.9 8.100" stroke-dashoffset="4"/>
<line x1="598" y1="1149" x2="598" y2="1453" stroke="#808080" stroke-width="2" stroke-dasharray="7.9 8.100" stroke-dashoffset="4"/>
<line x1="598" y1="1453" x2="294" y2="1453" stroke="#808080" stroke-width="2" stroke-dasharray="7.9 8.100" stroke-dashoffset="4"/>
<line x1="294" y1="1453" x2="294" y2="1149" stroke="#808080" stroke-width="2" stroke-dasharray="7.9 8.100" stroke-dashoffset="4"/>
<rect x="293" y="1148" width="2" height="2" fill="#808080"/>
<rect x="597" y="1148" width="2" height="2" fill="#808080"/>
<rect x="597" y="1452" width="2" height="2" fill="#808080"/>
<rect x="293" y="1452" width="2" height="2" fill="#808080"/>
<line x1="640" y1="1149" x2="944" y2="1149" stroke="#808080" stroke-width="2" stroke-dasharray="7.9 8.100" stroke-dashoffset="4"/>
<line x1="944" y1="1149" x2="944" y2="1453" stroke="#808080" stroke-width="2" stroke-dasharray="7.9 8.100" stroke-dashoffset="4"/>
<line x1="944" y1="1453" x2="640" y2="1453" stroke="#808080" stroke-width="2" stroke-dasharray="7.9 8.100" stroke-dashoffset="4"/>
<line x1="640" y1="1453" x2="640" y2="1149" stroke="#808080" stroke-width="2" stroke-dasharray="7.9 8.100" stroke-dashoffset="4"/>
<rect x="639" y="1148" width="2" height="2" fill="#808080"/>
<rect x="943" y="1148" width="2" height="2" fill="#808080"/>
<rect x="943" y="1452" width="2" height="2" fill="#808080"/>
<rect x="639" y="1452" width="2" height="2" fill="#808080"/>
<path d="M423.8,580 V605 L410,601.6 L446,639 L482,601.6 L468.2,605 V580" fill="url(#arrg)" stroke="none"/>
<path d="M423.8,580 V605 L410,601.6 L446,639 L482,601.6 L468.2,605 V580" fill="none" stroke="#5b5a4e" stroke-width="2.2" stroke-linejoin="miter"/>
<path d="M769.8,580 V605 L756,601.6 L792,639 L828,601.6 L814.2,605 V580" fill="url(#arrg)" stroke="none"/>
<path d="M769.8,580 V605 L756,601.6 L792,639 L828,601.6 L814.2,605 V580" fill="none" stroke="#5b5a4e" stroke-width="2.2" stroke-linejoin="miter"/>
<path d="M423.8,982.5 V1007.5 L410,1004.1 L446,1041.5 L482,1004.1 L468.2,1007.5 V982.5" fill="url(#arrg)" stroke="none"/>
<path d="M423.8,982.5 V1007.5 L410,1004.1 L446,1041.5 L482,1004.1 L468.2,1007.5 V982.5" fill="none" stroke="#5b5a4e" stroke-width="2.2" stroke-linejoin="miter"/>
<path d="M769.8,982.5 V1007.5 L756,1004.1 L792,1041.5 L828,1004.1 L814.2,1007.5 V982.5" fill="url(#arrg)" stroke="none"/>
<path d="M769.8,982.5 V1007.5 L756,1004.1 L792,1041.5 L828,1004.1 L814.2,1007.5 V982.5" fill="none" stroke="#5b5a4e" stroke-width="2.2" stroke-linejoin="miter"/>
<path d="M423.8,1464.3 V1489.3 L410,1485.9 L446,1523.3 L482,1485.9 L468.2,1489.3 V1464.3" fill="url(#arrg)" stroke="none"/>
<path d="M423.8,1464.3 V1489.3 L410,1485.9 L446,1523.3 L482,1485.9 L468.2,1489.3 V1464.3" fill="none" stroke="#5b5a4e" stroke-width="2.2" stroke-linejoin="miter"/>
<path d="M769.8,1464.3 V1489.3 L756,1485.9 L792,1523.3 L828,1485.9 L814.2,1489.3 V1464.3" fill="url(#arrg)" stroke="none"/>
<path d="M769.8,1464.3 V1489.3 L756,1485.9 L792,1523.3 L828,1485.9 L814.2,1489.3 V1464.3" fill="none" stroke="#5b5a4e" stroke-width="2.2" stroke-linejoin="miter"/>
<path d="M423.8,1926 V1951 L410,1947.6 L446,1985 L482,1947.6 L468.2,1951 V1926" fill="url(#arrg)" stroke="none"/>
<path d="M423.8,1926 V1951 L410,1947.6 L446,1985 L482,1947.6 L468.2,1951 V1926" fill="none" stroke="#5b5a4e" stroke-width="2.2" stroke-linejoin="miter"/>
<path d="M769.8,1926 V1951 L756,1947.6 L792,1985 L828,1947.6 L814.2,1951 V1926" fill="url(#arrg)" stroke="none"/>
<path d="M769.8,1926 V1951 L756,1947.6 L792,1985 L828,1947.6 L814.2,1951 V1926" fill="none" stroke="#5b5a4e" stroke-width="2.2" stroke-linejoin="miter"/>
<line x1="447.8" y1="735" x2="616.8" y2="735" stroke="#808080" stroke-width="2" stroke-dasharray="7.9 7.464" stroke-dashoffset="4"/>
<line x1="616.8" y1="735" x2="616.8" y2="904" stroke="#808080" stroke-width="2" stroke-dasharray="7.9 7.464" stroke-dashoffset="4"/>
<line x1="616.8" y1="904" x2="447.8" y2="904" stroke="#808080" stroke-width="2" stroke-dasharray="7.9 7.464" stroke-dashoffset="4"/>
<line x1="447.8" y1="904" x2="447.8" y2="735" stroke="#808080" stroke-width="2" stroke-dasharray="7.9 7.464" stroke-dashoffset="4"/>
<rect x="446.8" y="734" width="2" height="2" fill="#808080"/>
<rect x="615.8" y="734" width="2" height="2" fill="#808080"/>
<rect x="615.8" y="903" width="2" height="2" fill="#808080"/>
<rect x="446.8" y="903" width="2" height="2" fill="#808080"/>
<line x1="791.6" y1="735" x2="960.6" y2="735" stroke="#808080" stroke-width="2" stroke-dasharray="7.9 7.464" stroke-dashoffset="4"/>
<line x1="960.6" y1="735" x2="960.6" y2="904" stroke="#808080" stroke-width="2" stroke-dasharray="7.9 7.464" stroke-dashoffset="4"/>
<line x1="960.6" y1="904" x2="791.6" y2="904" stroke="#808080" stroke-width="2" stroke-dasharray="7.9 7.464" stroke-dashoffset="4"/>
<line x1="791.6" y1="904" x2="791.6" y2="735" stroke="#808080" stroke-width="2" stroke-dasharray="7.9 7.464" stroke-dashoffset="4"/>
<rect x="790.6" y="734" width="2" height="2" fill="#808080"/>
<rect x="959.6" y="734" width="2" height="2" fill="#808080"/>
<rect x="959.6" y="903" width="2" height="2" fill="#808080"/>
<rect x="790.6" y="903" width="2" height="2" fill="#808080"/>
<path d="M532,905V1077M532,1126V1148" stroke="#808080" stroke-width="2" fill="none"/>
<path d="M876.3,905V1148" stroke="#808080" stroke-width="2" fill="none"/>
<path d="M269,803.3H388.3" fill="none" stroke="#000" stroke-width="2.2"/>
<path d="M269,934.3H448" fill="none" stroke="#000" stroke-width="2.2"/>
<path d="M852,850.5H984" fill="none" stroke="#000" stroke-width="2.2"/>
<path d="M793,934.3H984" fill="none" stroke="#000" stroke-width="2.2"/>
<path d="M269,1190H457.4V1292.5" fill="none" stroke="#000" stroke-width="2.2"/>
<path d="M269,1434H410.1V1343" fill="none" stroke="#000" stroke-width="2.2"/>
<path d="M810.7,1281.2H984" fill="none" stroke="#000" stroke-width="2.2"/>
<path d="M735.8,1343V1434H984" fill="none" stroke="#000" stroke-width="2.2"/>
<path d="M269,1741H356.7" fill="none" stroke="#000" stroke-width="2.2"/>
<path d="M908,1741H984" fill="none" stroke="#000" stroke-width="2.2"/>
<path d="M735.8,1765V1893.7H984" fill="none" stroke="#000" stroke-width="2.2"/>
<text x="19.8" y="114" font-size="60" font-weight="bold" textLength="127.06" lengthAdjust="spacingAndGlyphs" fill="#231f20" stroke="#231f20" stroke-width="0.7">Fate</text>
<text x="163.1" y="114" font-size="60" font-weight="bold" textLength="54.03" lengthAdjust="spacingAndGlyphs" fill="#231f20" stroke="#231f20" stroke-width="0.7">of</text>
<text x="234.7" y="114" font-size="60" font-weight="bold" textLength="92.07" lengthAdjust="spacingAndGlyphs" fill="#231f20" stroke="#231f20" stroke-width="0.7">the</text>
<text x="341.9" y="114" font-size="60" font-weight="bold" textLength="102.63" lengthAdjust="spacingAndGlyphs" fill="#231f20" stroke="#231f20" stroke-width="0.7">eye</text>
<text x="458.8" y="114" font-size="60" font-weight="bold" textLength="51.80" lengthAdjust="spacingAndGlyphs" fill="#231f20" stroke="#231f20" stroke-width="0.7">in</text>
<text x="526.5" y="114" font-size="60" font-weight="bold" textLength="142.55" lengthAdjust="spacingAndGlyphs" fill="#231f20" stroke="#231f20" stroke-width="0.7">blind</text>
<text x="684.2" y="114" font-size="60" font-weight="bold" textLength="235.64" lengthAdjust="spacingAndGlyphs" fill="#231f20" stroke="#231f20" stroke-width="0.7">cavefish</text>
<text x="935.4" y="114" font-size="60" font-weight="bold" textLength="247.15" lengthAdjust="spacingAndGlyphs" fill="#231f20" stroke="#231f20" stroke-width="0.7">embryos</text>
<text x="359.9" y="238.7" font-size="33" font-weight="bold" textLength="171.38" lengthAdjust="spacingAndGlyphs" fill="#231f20" stroke="#231f20" stroke-width="0.7">CAVEFISH</text>
<text x="669.7" y="238.7" font-size="33" font-weight="bold" textLength="157.36" lengthAdjust="spacingAndGlyphs" fill="#231f20" stroke="#231f20" stroke-width="0.7">SURFACE</text>
<text x="837.3" y="238.7" font-size="33" font-weight="bold" textLength="78.16" lengthAdjust="spacingAndGlyphs" fill="#231f20" stroke="#231f20" stroke-width="0.7">FISH</text>
<text x="473.9" y="1112.8" font-size="33.5" font-weight="bold" textLength="40.96" lengthAdjust="spacingAndGlyphs" fill="#6f98dc" stroke="#6f98dc" stroke-width="0.7">24</text>
<text x="525.2" y="1112.8" font-size="33.5" font-weight="bold" textLength="125.32" lengthAdjust="spacingAndGlyphs" fill="#6f98dc" stroke="#6f98dc" stroke-width="0.7">HOURS</text>
<text x="659.5" y="1112.8" font-size="33.5" font-weight="bold" textLength="106.09" lengthAdjust="spacingAndGlyphs" fill="#6f98dc" stroke="#6f98dc" stroke-width="0.7">LATER</text>
<text x="502.6" y="1571.7" font-size="33.5" font-weight="bold" textLength="19.80" lengthAdjust="spacingAndGlyphs" fill="#6f98dc" stroke="#6f98dc" stroke-width="0.7">5</text>
<text x="531.8" y="1571.7" font-size="33.5" font-weight="bold" textLength="91.77" lengthAdjust="spacingAndGlyphs" fill="#6f98dc" stroke="#6f98dc" stroke-width="0.7">DAYS</text>
<text x="632.9" y="1571.7" font-size="33.5" font-weight="bold" textLength="105.58" lengthAdjust="spacingAndGlyphs" fill="#6f98dc" stroke="#6f98dc" stroke-width="0.7">LATER</text>
<circle cx="149.2" cy="323" r="11.3" fill="#86b9bc"/>
<circle cx="149.2" cy="379.5" r="11.3" fill="#fb4f0d"/>
<text x="170.7" y="339.2" font-size="41" textLength="75.28" lengthAdjust="spacingAndGlyphs" fill="#231f20" stroke="#231f20" stroke-width="0.45">Shh</text>
<text x="170.3" y="395.2" font-size="41" textLength="97.98" lengthAdjust="spacingAndGlyphs" fill="#231f20" stroke="#231f20" stroke-width="0.45">Pax6</text>
<path d="M116.6,303.5L122,323H118.2V339.8H115V323H111.2Z" fill="#000"/>
<path d="M116.6,396L122,376.5H118.2V359.7H115V376.5H111.2Z" fill="#000"/>
<circle cx="995" cy="323" r="11.3" fill="#86b9bc"/>
<circle cx="995" cy="379.5" r="11.3" fill="#fb4f0d"/>
<circle cx="995" cy="436" r="11.3" fill="#fbad18"/>
<text x="1017.3" y="339.2" font-size="41" textLength="76.02" lengthAdjust="spacingAndGlyphs" fill="#231f20" stroke="#231f20" stroke-width="0.45">Shh</text>
<text x="1017" y="395.2" font-size="41" textLength="97.88" lengthAdjust="spacingAndGlyphs" fill="#231f20" stroke="#231f20" stroke-width="0.45">Pax6</text>
<text x="1017" y="451.2" font-size="41" textLength="110.07" lengthAdjust="spacingAndGlyphs" fill="#231f20" stroke="#231f20" stroke-width="0.45">Pax2/</text>
<text x="1018.6" y="507.2" font-size="41" textLength="87.34" lengthAdjust="spacingAndGlyphs" fill="#231f20" stroke="#231f20" stroke-width="0.45">Vax1</text>
<text x="82.2" y="765" font-size="41" textLength="175.33" lengthAdjust="spacingAndGlyphs" fill="#231f20" stroke="#231f20" stroke-width="0.45">Reduced</text>
<text x="160.7" y="812.5" font-size="41" textLength="96.32" lengthAdjust="spacingAndGlyphs" fill="#231f20" stroke="#231f20" stroke-width="0.45">optic</text>
<text x="123.4" y="860.8" font-size="41" textLength="133.71" lengthAdjust="spacingAndGlyphs" fill="#231f20" stroke="#231f20" stroke-width="0.45">vesicle</text>
<text x="67.5" y="952.1" font-size="41" textLength="189.37" lengthAdjust="spacingAndGlyphs" fill="#231f20" stroke="#231f20" stroke-width="0.45">Forebrain</text>
<text x="995.8" y="812.5" font-size="41" textLength="105.36" lengthAdjust="spacingAndGlyphs" fill="#231f20" stroke="#231f20" stroke-width="0.45">Optic</text>
<text x="996.5" y="860.8" font-size="41" textLength="133.41" lengthAdjust="spacingAndGlyphs" fill="#231f20" stroke="#231f20" stroke-width="0.45">vesicle</text>
<text x="995.3" y="952.1" font-size="41" textLength="187.81" lengthAdjust="spacingAndGlyphs" fill="#231f20" stroke="#231f20" stroke-width="0.45">Forebrain</text>
<text x="164" y="1178" font-size="41" textLength="92.49" lengthAdjust="spacingAndGlyphs" fill="#231f20" stroke="#231f20" stroke-width="0.45">Lens</text>
<text x="67" y="1226" font-size="41" textLength="189.71" lengthAdjust="spacingAndGlyphs" fill="#231f20" stroke="#231f20" stroke-width="0.45">apoptosis</text>
<text x="42.9" y="1274" font-size="41" textLength="79.20" lengthAdjust="spacingAndGlyphs" fill="#231f20" stroke="#231f20" stroke-width="0.45">(cell</text>
<text x="134.1" y="1274" font-size="41" textLength="123.12" lengthAdjust="spacingAndGlyphs" fill="#231f20" stroke="#231f20" stroke-width="0.45">death)</text>
<text x="68.3" y="1395.3" font-size="41" textLength="105.67" lengthAdjust="spacingAndGlyphs" fill="#231f20" stroke="#231f20" stroke-width="0.45">Optic</text>
<text x="185" y="1395.3" font-size="41" textLength="71.92" lengthAdjust="spacingAndGlyphs" fill="#231f20" stroke="#231f20" stroke-width="0.45">cup</text>
<text x="67" y="1444" font-size="41" textLength="189.71" lengthAdjust="spacingAndGlyphs" fill="#231f20" stroke="#231f20" stroke-width="0.45">apoptosis</text>
<text x="995.1" y="1295" font-size="41" textLength="92.39" lengthAdjust="spacingAndGlyphs" fill="#231f20" stroke="#231f20" stroke-width="0.45">Lens</text>
<text x="995.8" y="1444" font-size="41" textLength="105.36" lengthAdjust="spacingAndGlyphs" fill="#231f20" stroke="#231f20" stroke-width="0.45">Optic</text>
<text x="1112.4" y="1444" font-size="41" textLength="70.87" lengthAdjust="spacingAndGlyphs" fill="#231f20" stroke="#231f20" stroke-width="0.45">cup</text>
<text x="126.7" y="1755" font-size="41" textLength="131.36" lengthAdjust="spacingAndGlyphs" fill="#231f20" stroke="#231f20" stroke-width="0.45">Neural</text>
<text x="145.4" y="1803" font-size="41" textLength="108.64" lengthAdjust="spacingAndGlyphs" fill="#231f20" stroke="#231f20" stroke-width="0.45">retina</text>
<text x="67" y="1851" font-size="41" textLength="189.71" lengthAdjust="spacingAndGlyphs" fill="#231f20" stroke="#231f20" stroke-width="0.45">apoptosis</text>
<text x="995.7" y="1751" font-size="41" textLength="140.59" lengthAdjust="spacingAndGlyphs" fill="#231f20" stroke="#231f20" stroke-width="0.45">Cornea</text>
<text x="995" y="1857" font-size="41" textLength="131.15" lengthAdjust="spacingAndGlyphs" fill="#231f20" stroke="#231f20" stroke-width="0.45">Neural</text>
<text x="995.7" y="1905" font-size="41" textLength="108.95" lengthAdjust="spacingAndGlyphs" fill="#231f20" stroke="#231f20" stroke-width="0.45">retina</text>
<text x="21.7" y="2404.9" font-size="30.3" textLength="134.94" lengthAdjust="spacingAndGlyphs" fill="#231f20" stroke="#231f20" stroke-width="0.2">SOURCE:</text>
<text x="164.2" y="2404.9" font-size="30.3" textLength="139.12" lengthAdjust="spacingAndGlyphs" fill="#231f20" stroke="#231f20" stroke-width="0.2">ADAPTED</text>
<text x="311.6" y="2404.9" font-size="30.3" textLength="89.80" lengthAdjust="spacingAndGlyphs" fill="#231f20" stroke="#231f20" stroke-width="0.2">FROM</text>
<text x="409.1" y="2404.9" font-size="30.3" textLength="24.96" lengthAdjust="spacingAndGlyphs" fill="#231f20" stroke="#231f20" stroke-width="0.2">J.</text>
<text x="438.4" y="2404.9" font-size="30.3" textLength="155.39" lengthAdjust="spacingAndGlyphs" fill="#231f20" stroke="#231f20" stroke-width="0.2">KRISHNAN</text>
<text x="601.7" y="2404.9" font-size="30.3" textLength="19.63" lengthAdjust="spacingAndGlyphs" fill="#231f20" stroke="#231f20" stroke-width="0.2">&amp;</text>
<text x="630.7" y="2404.9" font-size="30.3" textLength="31.27" lengthAdjust="spacingAndGlyphs" fill="#231f20" stroke="#231f20" stroke-width="0.2">N.</text>
<text x="668" y="2404.9" font-size="30.3" textLength="127.90" lengthAdjust="spacingAndGlyphs" fill="#231f20" stroke="#231f20" stroke-width="0.2">ROHNER</text>
<text x="804.9" y="2404.9" font-size="30.3" textLength="8.93" lengthAdjust="spacingAndGlyphs" fill="#231f20" stroke="#231f20" stroke-width="0.2">/</text>
<text x="22.1" y="2443.8" font-size="30.3" font-style="italic" textLength="240.68" lengthAdjust="spacingAndGlyphs" fill="#231f20" stroke="#231f20" stroke-width="0.2">PHILOSOPHICAL</text>
<text x="273.3" y="2443.8" font-size="30.3" font-style="italic" textLength="231.99" lengthAdjust="spacingAndGlyphs" fill="#231f20" stroke="#231f20" stroke-width="0.2">TRANSACTIONS</text>
<text x="515.4" y="2443.8" font-size="30.3" font-style="italic" textLength="41.51" lengthAdjust="spacingAndGlyphs" fill="#231f20" stroke="#231f20" stroke-width="0.2">OF</text>
<text x="566.2" y="2443.8" font-size="30.3" font-style="italic" textLength="56.98" lengthAdjust="spacingAndGlyphs" fill="#231f20" stroke="#231f20" stroke-width="0.2">THE</text>
<text x="632.9" y="2443.8" font-size="30.3" font-style="italic" textLength="102.89" lengthAdjust="spacingAndGlyphs" fill="#231f20" stroke="#231f20" stroke-width="0.2">ROYAL</text>
<text x="22.2" y="2482" font-size="30.3" font-style="italic" textLength="124.24" lengthAdjust="spacingAndGlyphs" fill="#231f20" stroke="#231f20" stroke-width="0.2">SOCIETY</text>
<text x="159.3" y="2482" font-size="30.3" font-style="italic" textLength="19.96" lengthAdjust="spacingAndGlyphs" fill="#231f20" stroke="#231f20" stroke-width="0.2">B</text>
<text x="187.1" y="2482" font-size="30.3" textLength="65.43" lengthAdjust="spacingAndGlyphs" fill="#231f20" stroke="#231f20" stroke-width="0.2">2017</text>
<text x="879.8" y="2482" font-size="30.3" textLength="170.77" lengthAdjust="spacingAndGlyphs" fill="#231f20" stroke="#231f20" stroke-width="0.2">KNOWABLE</text>
<text x="1060" y="2482" font-size="30.3" textLength="158.22" lengthAdjust="spacingAndGlyphs" fill="#231f20" stroke="#231f20" stroke-width="0.2">MAGAZINE</text>
</svg>
</body></html>
